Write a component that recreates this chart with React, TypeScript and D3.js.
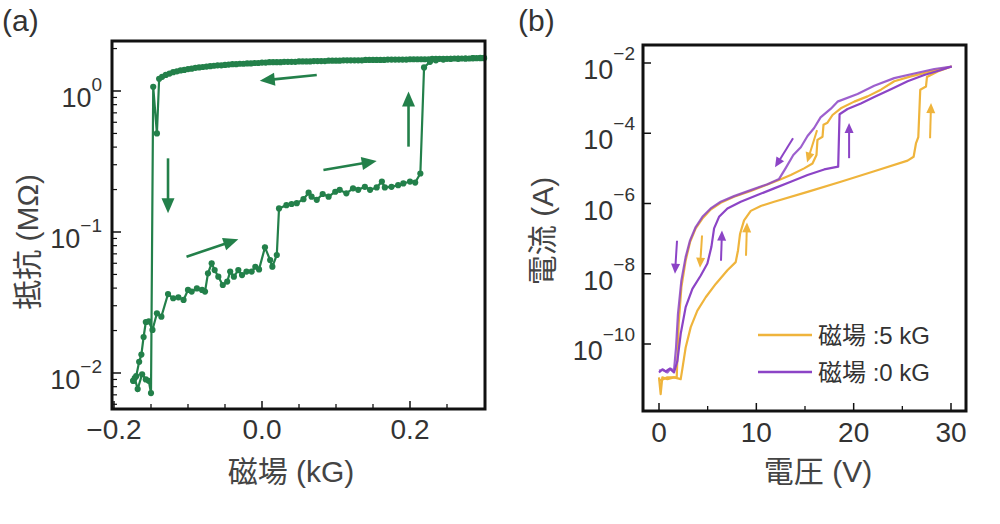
import React from "react";
import * as d3 from "d3";

// ---------- Panel (a): resistance (MΩ) vs magnetic field (kG) ----------
// sweep with decreasing field: [field kG, resistance MΩ]
const fieldDownSweep: [number, number][] = [
  [0.300, 1.71], [0.295, 1.71], [0.290, 1.71], [0.285, 1.71], [0.280, 1.70], [0.275, 1.70],
  [0.270, 1.70], [0.265, 1.70], [0.260, 1.70], [0.255, 1.69], [0.250, 1.69], [0.245, 1.69],
  [0.240, 1.69], [0.235, 1.69], [0.230, 1.69], [0.225, 1.68], [0.220, 1.68], [0.215, 1.68],
  [0.210, 1.68], [0.205, 1.68], [0.200, 1.68], [0.195, 1.67], [0.190, 1.67], [0.185, 1.67],
  [0.180, 1.67], [0.175, 1.67], [0.170, 1.67], [0.165, 1.66], [0.160, 1.66], [0.155, 1.66],
  [0.150, 1.66], [0.145, 1.66], [0.140, 1.66], [0.135, 1.65], [0.130, 1.65], [0.125, 1.65],
  [0.120, 1.65], [0.115, 1.65], [0.110, 1.65], [0.105, 1.64], [0.100, 1.64], [0.095, 1.64],
  [0.090, 1.64], [0.085, 1.63], [0.080, 1.63], [0.075, 1.63], [0.070, 1.63], [0.065, 1.62],
  [0.060, 1.62], [0.055, 1.62], [0.050, 1.62], [0.045, 1.61], [0.040, 1.61], [0.035, 1.61],
  [0.030, 1.61], [0.025, 1.60], [0.020, 1.60], [0.015, 1.60], [0.010, 1.60], [0.005, 1.59],
  [0.000, 1.59], [-0.005, 1.58], [-0.010, 1.58], [-0.015, 1.57], [-0.020, 1.57], [-0.025, 1.56],
  [-0.030, 1.56], [-0.035, 1.55], [-0.040, 1.55], [-0.045, 1.54], [-0.050, 1.53], [-0.055, 1.52],
  [-0.060, 1.52], [-0.065, 1.51], [-0.070, 1.50], [-0.075, 1.49], [-0.080, 1.48], [-0.085, 1.47],
  [-0.090, 1.46], [-0.095, 1.44], [-0.100, 1.43], [-0.105, 1.41], [-0.110, 1.40], [-0.115, 1.38],
  [-0.120, 1.36], [-0.125, 1.33], [-0.130, 1.30], [-0.135, 1.26], [-0.139, 1.22],
  [-0.142, 0.50], [-0.147, 1.07], [-0.150, 0.0072], [-0.153, 0.0088],
  [-0.157, 0.0090], [-0.162, 0.0098], [-0.168, 0.0077], [-0.172, 0.0092], [-0.174, 0.0088],
];
// sweep with increasing field
const fieldUpSweep: [number, number][] = [
  [-0.174, 0.0088], [-0.170, 0.0095], [-0.166, 0.0120], [-0.163, 0.0135], [-0.160, 0.0180],
  [-0.157, 0.0230], [-0.153, 0.0232], [-0.148, 0.0202], [-0.142, 0.0265], [-0.136, 0.0251],
  [-0.127, 0.0363], [-0.120, 0.0339], [-0.113, 0.0344], [-0.106, 0.0330], [-0.100, 0.0388],
  [-0.095, 0.0378], [-0.088, 0.0398], [-0.081, 0.0388], [-0.077, 0.0378], [-0.073, 0.0509],
  [-0.068, 0.0600], [-0.064, 0.0537], [-0.059, 0.0482], [-0.053, 0.0421], [-0.047, 0.0445],
  [-0.043, 0.0524], [-0.038, 0.0482], [-0.032, 0.0537], [-0.027, 0.0495], [-0.021, 0.0524],
  [-0.014, 0.0524], [-0.009, 0.0567], [-0.004, 0.0543], [0.004, 0.0778], [0.011, 0.0632],
  [0.014, 0.0568], [0.020, 0.0687], [0.023, 0.147], [0.033, 0.155], [0.040, 0.158],
  [0.047, 0.160], [0.056, 0.171], [0.063, 0.190], [0.067, 0.178], [0.074, 0.169],
  [0.082, 0.186], [0.090, 0.178], [0.099, 0.193], [0.105, 0.199], [0.114, 0.188],
  [0.123, 0.204], [0.130, 0.199], [0.139, 0.209], [0.146, 0.199], [0.155, 0.207],
  [0.162, 0.228], [0.166, 0.207], [0.175, 0.209], [0.184, 0.215], [0.191, 0.221],
  [0.200, 0.228], [0.207, 0.224], [0.214, 0.260], [0.219, 1.47], [0.227, 1.61],
  [0.235, 1.65], [0.245, 1.67], [0.255, 1.69], [0.265, 1.69], [0.275, 1.70],
  [0.285, 1.71], [0.295, 1.72], [0.300, 1.72],
];
// arrows [x1, R1, x2, R2]
const arrowsA: [number, number, number, number][] = [
  [0.074, 1.30, -0.003, 1.18],
  [-0.127, 0.333, -0.127, 0.136],
  [-0.102, 0.0668, -0.032, 0.0887],
  [0.083, 0.275, 0.155, 0.319],
  [0.198, 0.403, 0.198, 0.99],
];
const xTicksA = [-0.2, 0.0, 0.2];
const xMinorA = [-0.15, -0.1, -0.05, 0.05, 0.1, 0.15, 0.25];
const yTicksA = [-2, -1, 0];

// ---------- Panel (b): current vs voltage, [V, log10 I(A)] ----------
const up0kG: [number, number][] = [
  [0, -10.81], [0.35, -10.72], [0.69, -10.78], [1.1, -10.7], [1.54, -10.81],
  [1.89, -10.48], [2.23, -9.71], [2.74, -8.95], [3.43, -8.43], [4.29, -8.05],
  [4.97, -7.71], [5.38, -7.24], [5.66, -6.71], [6.17, -6.38], [7.03, -6.14],
  [8.4, -5.95], [10.11, -5.76], [11.83, -5.57], [13.54, -5.38], [15.26, -5.19],
  [16.97, -5.03], [18.41, -4.95], [18.55, -3.46], [19.37, -3.31], [20.74, -3.15],
  [22.11, -2.97], [23.83, -2.75], [25.54, -2.52], [27.25, -2.34], [28.97, -2.2], [30.07, -2.1],
];
const down0kG: [number, number][] = [
  [30.07, -2.1], [28.28, -2.17], [26.23, -2.3], [24.17, -2.43], [22.11, -2.65],
  [20.4, -2.88], [18.34, -3.1], [17.66, -3.3], [16.6, -3.55], [15.94, -3.85],
  [15.26, -4.08], [14.57, -4.4], [13.8, -4.62], [13.0, -5.0], [12.34, -5.3],
  [11.14, -5.45], [9.43, -5.62], [7.71, -5.79], [6.34, -5.95], [5.31, -6.14],
  [4.46, -6.38], [3.77, -6.67], [3.19, -7.05], [2.74, -7.52], [2.3, -8.19],
  [1.95, -9.14], [1.75, -10.1], [1.54, -10.76], [1.2, -10.7], [0.86, -10.81],
  [0.4, -10.74], [0, -10.76],
];
const up5kG: [number, number][] = [
  [0, -10.95], [0.17, -11.43], [0.34, -10.95], [0.86, -11.0], [1.54, -10.95],
  [2.23, -11.0], [2.4, -10.71], [2.74, -10.1], [3.26, -9.52], [3.94, -9.05],
  [4.8, -8.67], [5.83, -8.29], [7.03, -7.9], [7.88, -7.67], [8.12, -7.33],
  [8.33, -6.86], [8.74, -6.48], [9.43, -6.21], [10.46, -6.07], [11.83, -5.95],
  [15.26, -5.67], [18.68, -5.38], [22.11, -5.08], [25.54, -4.78], [26.16, -4.67],
  [26.4, -4.29], [26.64, -4.11], [26.84, -2.76], [27.43, -2.67], [27.53, -2.4],
  [28.63, -2.24], [30.07, -2.1],
];
const down5kG: [number, number][] = [
  [30.07, -2.1], [27.94, -2.24], [25.88, -2.38], [24.17, -2.52], [22.8, -2.76],
  [21.43, -2.95], [20.06, -3.1], [18.68, -3.29], [17.83, -3.48], [17.31, -3.7],
  [16.9, -3.76], [16.8, -4.1], [16.28, -4.19], [16.18, -4.62], [15.77, -4.86],
  [14.91, -5.0], [13.54, -5.19], [12.51, -5.31], [11.14, -5.46], [9.43, -5.64],
  [7.71, -5.81], [6.34, -5.98], [5.31, -6.17], [4.46, -6.43], [3.77, -6.71],
  [3.19, -7.1], [2.74, -7.62], [2.3, -8.38], [2.02, -9.43], [1.89, -10.38],
  [1.82, -10.95], [0.86, -10.95], [0, -11.05],
];
// arrows [V1, log I1, V2, log I2, series]
const arrowsB: [number, number, number, number, string][] = [
  [13.77, -4.14, 11.92, -4.97, "p"],
  [16.24, -3.91, 15.21, -4.83, "o"],
  [19.53, -4.71, 19.53, -3.71, "p"],
  [27.85, -4.14, 27.95, -3.14, "o"],
  [1.85, -7.06, 1.64, -8.0, "p"],
  [4.42, -6.91, 4.21, -7.83, "o"],
  [6.37, -7.63, 6.47, -6.77, "p"],
  [8.94, -7.49, 9.04, -6.54, "o"],
];
const xTicksB = [0, 10, 20, 30];
const xMinorB = [5, 15, 25];
const yTicksB = [-2, -4, -6, -8, -10];
const legendB = [
  { label: "磁場 :5 kG", key: "o" },
  { label: "磁場 :0 kG", key: "p" },
];

const GREEN = "#23804a";
const ORANGE = "#efb43c";
const PURPLE = "#8c44c6";
const TXT = "#333";
const FONT = "'Liberation Sans', Arial, 'Noto Sans CJK JP', sans-serif";
const MINUS = "\u2212";

function Arrow(props: { x1: number; y1: number; x2: number; y2: number; color: string; len: number; half: number; sw: number }) {
  const { x1, y1, x2, y2, color, len, half, sw } = props;
  const dx = x2 - x1, dy = y2 - y1;
  const L = Math.hypot(dx, dy);
  const ux = dx / L, uy = dy / L;
  const bx = x2 - ux * len, by = y2 - uy * len;
  const pts = [
    [x2, y2],
    [bx - uy * half, by + ux * half],
    [bx + uy * half, by - ux * half],
  ].map((p) => p.join(",")).join(" ");
  return (
    <g>
      <line x1={x1} y1={y1} x2={bx + ux} y2={by + uy} stroke={color} strokeWidth={sw} />
      <polygon points={pts} fill={color} />
    </g>
  );
}

export default function App() {
  const fA = { x0: 112, y0: 41, x1: 485, y1: 409 };
  const fB = { x0: 643, y0: 45, x1: 966, y1: 411 };
  const xA = d3.scaleLinear().domain([-0.2, 0.3]).range([114, 484]);
  const yA = d3.scaleLog().domain([0.01, 1]).range([373, 91]);
  const xB = d3.scaleLinear().domain([0, 30]).range([659, 951]);
  const yB = d3.scaleLog().domain([1e-10, 1e-2]).range([344, 63]);

  const lineA = d3.line<[number, number]>().x((d) => xA(d[0])).y((d) => yA(d[1]));
  const lineB = d3.line<[number, number]>().x((d) => xB(d[0])).y((d) => yB(Math.pow(10, d[1])));

  const minorYA: number[] = [];
  for (let e = -3; e <= 0; e++) {
    for (let k = 2; k <= 9; k++) {
      const v = k * Math.pow(10, e);
      const py = yA(v);
      if (py > fA.y0 + 2 && py < fA.y1 - 2) minorYA.push(v);
    }
  }

  const fmtA = (v: number) => (v < 0 ? MINUS : "") + Math.abs(v).toFixed(1);
  const colorB = (k: string) => (k === "o" ? ORANGE : PURPLE);

  return (
    <svg width={1000} height={524} style={{ position: "absolute", left: 0, top: 0, background: "#fff" }} fontFamily={FONT}>
      <rect x={0} y={0} width={1000} height={524} fill="#fff" />

      {/* ---------- Panel (a) ---------- */}
      <text x={2} y={31} fontSize={30} fill={TXT}>(a)</text>
      <g>
        <path d={lineA(fieldDownSweep) || ""} fill="none" stroke={GREEN} strokeWidth={2.2} />
        <path d={lineA(fieldUpSweep) || ""} fill="none" stroke={GREEN} strokeWidth={2.2} />
        {fieldDownSweep.concat(fieldUpSweep).map((d, i) => (
          <circle key={i} cx={xA(d[0])} cy={yA(d[1])} r={3.1} fill={GREEN} />
        ))}
        {arrowsA.map((a, i) => (
          <Arrow key={i} x1={xA(a[0])} y1={yA(a[1])} x2={xA(a[2])} y2={yA(a[3])} color={GREEN} len={15} half={6.5} sw={2.6} />
        ))}
      </g>
      {/* ticks */}
      {xTicksA.map((t) => (
        <line key={"xa" + t} x1={xA(t)} x2={xA(t)} y1={fA.y1} y2={fA.y1 - 8} stroke="#111" strokeWidth={1.5} />
      ))}
      {xMinorA.map((t) => (
        <line key={"xam" + t} x1={xA(t)} x2={xA(t)} y1={fA.y1} y2={fA.y1 - 5} stroke="#111" strokeWidth={1.3} />
      ))}
      {yTicksA.map((e) => (
        <line key={"ya" + e} x1={fA.x0} x2={fA.x0 + 9} y1={yA(Math.pow(10, e))} y2={yA(Math.pow(10, e))} stroke="#111" strokeWidth={1.5} />
      ))}
      {minorYA.map((v, i) => (
        <line key={"yam" + i} x1={fA.x0} x2={fA.x0 + 5} y1={yA(v)} y2={yA(v)} stroke="#111" strokeWidth={1.2} />
      ))}
      <rect x={fA.x0} y={fA.y0} width={fA.x1 - fA.x0} height={fA.y1 - fA.y0} fill="none" stroke="#111" strokeWidth={3} />
      {xTicksA.map((t) => (
        <text key={"xal" + t} x={xA(t)} y={439} fontSize={28} textAnchor="middle" fill={TXT}>{fmtA(t)}</text>
      ))}
      {yTicksA.map((e) => (
        <text key={"yal" + e} x={102} y={yA(Math.pow(10, e)) + 16} fontSize={27} textAnchor="end" fill={TXT}>
          10<tspan dy={-16} fontSize={19}>{e < 0 ? MINUS + Math.abs(e) : String(e)}</tspan>
        </text>
      ))}
      <text x={291} y={482} fontSize={30} textAnchor="middle" fill="#444">磁場 (kG)</text>
      <text transform="translate(38,242) rotate(-90)" fontSize={30} textAnchor="middle" fill="#444">抵抗 (MΩ)</text>

      {/* ---------- Panel (b) ---------- */}
      <text x={518} y={31} fontSize={30} fill={TXT}>(b)</text>
      <g>
        <path d={lineB(up5kG) || ""} fill="none" stroke={ORANGE} strokeWidth={2.2} strokeLinejoin="round" />
        <path d={lineB(down5kG) || ""} fill="none" stroke={ORANGE} strokeWidth={2.2} strokeLinejoin="round" />
        <path d={lineB(up0kG) || ""} fill="none" stroke={PURPLE} strokeWidth={2.2} strokeLinejoin="round" />
        <path d={lineB(down0kG) || ""} fill="none" stroke={PURPLE} strokeWidth={2.2} strokeLinejoin="round" opacity={0.85} />
        {arrowsB.map((a, i) => (
          <Arrow key={i} x1={xB(a[0])} y1={yB(Math.pow(10, a[1]))} x2={xB(a[2])} y2={yB(Math.pow(10, a[3]))} color={colorB(a[4])} len={10} half={4.5} sw={2} />
        ))}
      </g>
      {xTicksB.map((t) => (
        <line key={"xb" + t} x1={xB(t)} x2={xB(t)} y1={fB.y1} y2={fB.y1 - 8} stroke="#111" strokeWidth={1.5} />
      ))}
      {xMinorB.map((t) => (
        <line key={"xbm" + t} x1={xB(t)} x2={xB(t)} y1={fB.y1} y2={fB.y1 - 5} stroke="#111" strokeWidth={1.3} />
      ))}
      {yTicksB.map((e) => (
        <line key={"yb" + e} x1={fB.x0} x2={fB.x0 + 8} y1={yB(Math.pow(10, e))} y2={yB(Math.pow(10, e))} stroke="#111" strokeWidth={1.5} />
      ))}
      <rect x={fB.x0} y={fB.y0} width={fB.x1 - fB.x0} height={fB.y1 - fB.y0} fill="none" stroke="#111" strokeWidth={3} />
      {xTicksB.map((t) => (
        <text key={"xbl" + t} x={xB(t)} y={442} fontSize={28} textAnchor="middle" fill={TXT}>{String(t)}</text>
      ))}
      {yTicksB.map((e) => (
        <text key={"ybl" + e} x={635} y={yB(Math.pow(10, e)) + 16} fontSize={27} textAnchor="end" fill={TXT}>
          10<tspan dy={-19} fontSize={19}>{MINUS + Math.abs(e)}</tspan>
        </text>
      ))}
      <text x={818} y={482} fontSize={30} textAnchor="middle" fill="#444">電圧 (V)</text>
      <text transform="translate(553,231) rotate(-90)" fontSize={30} textAnchor="middle" fill="#444">電流 (A)</text>

      {legendB.map((l, i) => (
        <g key={l.key}>
          <line x1={758} x2={812} y1={335 + i * 37} y2={335 + i * 37} stroke={colorB(l.key)} strokeWidth={2.5} />
          <text x={818} y={344 + i * 37} fontSize={24} fill={TXT}>{l.label}</text>
        </g>
      ))}
    </svg>
  );
}
